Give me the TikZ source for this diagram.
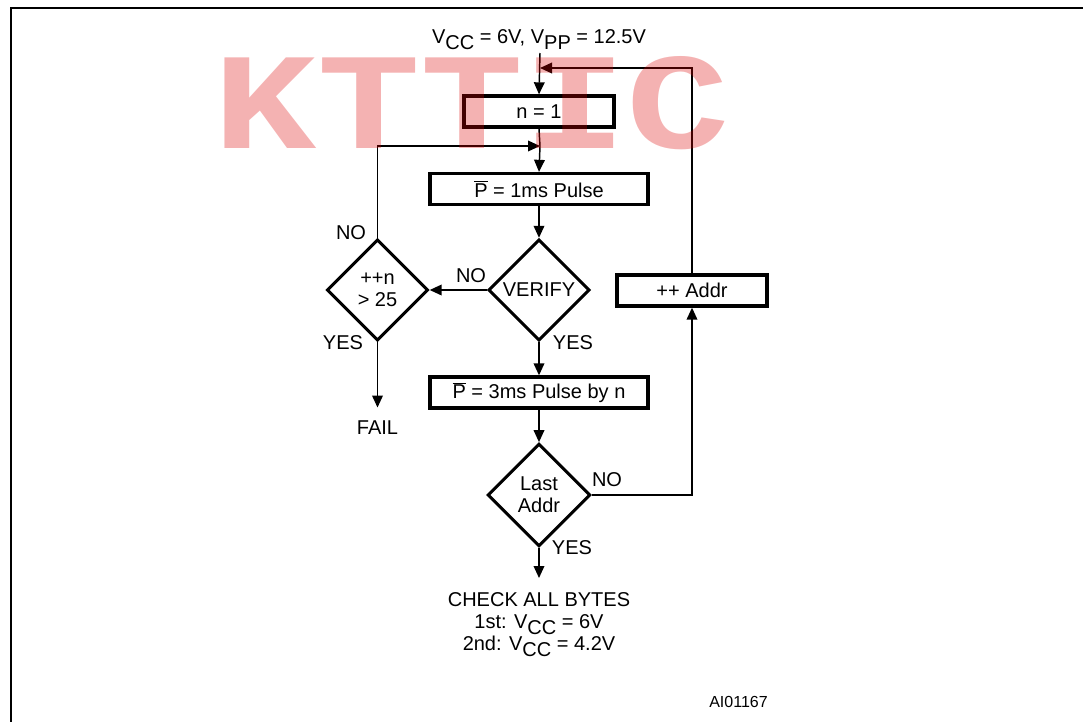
\documentclass[tikz,border=0pt]{standalone}
\usepackage{fontspec}
\setmainfont{Liberation Sans}
\newfontfamily\wmfont{Liberation Mono}
\usepackage{tikz}
\usetikzlibrary{positioning}
\usetikzlibrary{arrows.meta}
\usetikzlibrary{shapes.geometric}

\newcommand{\lowsub}[1]{\raisebox{-5pt}{#1}}
\newcommand{\pbar}{$\overline{\mbox{P}}$}

\begin{document}
\begin{tikzpicture}[x=0.75pt,y=0.75pt,yscale=-1,xscale=1,
  every node/.style={font=\fontsize{15}{16.5}\selectfont},
  stepbox/.style={draw,line width=2.5pt,minimum width=112.5pt,minimum height=23.25pt,inner sep=0pt},
  widebox/.style={stepbox,minimum width=163.5pt},
  decision/.style={draw,diamond,aspect=1,line width=2.3pt,minimum width=76pt,minimum height=76pt,inner sep=0pt,align=center},
  conn/.style={line width=1.1pt,-{Triangle[length=9pt,width=8pt]}},
  wire/.style={line width=1.1pt},
  answer/.style={inner sep=0pt}]
\useasboundingbox (0,0) rectangle (1083,722);

% Frame
\draw [line width=2.2pt] (11,740) -- (11,8) -- (1100,8) ;

% Text Node
\node [anchor=base] (supply) at (539,43) {V\lowsub{CC} = 6V, V\lowsub{PP} = 12.5V};
\coordinate (start) at (540,53);
\coordinate (jtop) at (540,68);
\coordinate (jloop) at (540,146);
% Text Node
\node [stepbox] (setn) at (539,111.5) {n = 1};
% Text Node
\node [widebox] (pulse1) at (539,189) {\pbar{} = 1ms Pulse};
% Text Node
\node [decision] (verify) at (539,290) {VERIFY};
% Text Node
\node [decision] (count) at (377.5,290) {++n\\> 25};
% Text Node
\node [answer] (fail) at (377.5,428) {FAIL};
% Text Node
\node [widebox] (pulse3) at (539,392.5) {\pbar{} = 3ms Pulse by n};
% Text Node
\node [decision,minimum width=77pt,minimum height=77pt] (last) at (539,495) {Last\\Addr};
% Text Node
\node [stepbox] (addr) at (692,290.5) {++ Addr};
% Text Node
\node [answer,anchor=north,align=center] (check) at (539,592) {CHECK ALL BYTES\\1st: V\lowsub{CC} = 6V\\2nd: V\lowsub{CC} = 4.2V};
% Text Node
\node [font=\fontsize{12}{14}\selectfont] (figid) at (738.5,702) {AI01167};

% Answers
\node [answer] (noverify) at (471,276) {NO};
\node [answer] (nocount) at (351,233) {NO};
\node [answer] (yescount) at (343,343) {YES};
\node [answer] (yesverify) at (573,343) {YES};
\node [answer] (nolast) at (607,480) {NO};
\node [answer] (yeslast) at (572,548) {YES};

% Connection
\draw [conn] (start) -- (setn.north) ;
\draw [wire] (setn.south) -- (jloop) ;
\draw [conn] (jloop) -- (pulse1.north) ;
\draw [conn] (addr.north) |- (jtop) ;
\draw [conn] (count.north) |- (jloop) ;
\draw [conn] (pulse1.south) -- (verify.north) ;
\draw [conn] (verify.west) -- (count.east) ;
\draw [conn] (verify.south) -- (pulse3.north) ;
\draw [conn,shorten >=10pt] (count.south) -- (fail.north) ;
\draw [conn] (pulse3.south) -- (last.north) ;
\draw [conn] (last.east) -| (addr.south) ;
\draw [conn,shorten >=10.5pt] (last.south) -- (check.north) ;

% Watermark
\node [font=\wmfont\bfseries\fontsize{129}{129}\selectfont,text={rgb,255:red,220;green,0;blue,0},text opacity=0.3,inner sep=0pt,anchor=base] (stamp) at (472,148) {\scalebox{1}[0.8]{KTTIC}};

\end{tikzpicture}
\end{document}
